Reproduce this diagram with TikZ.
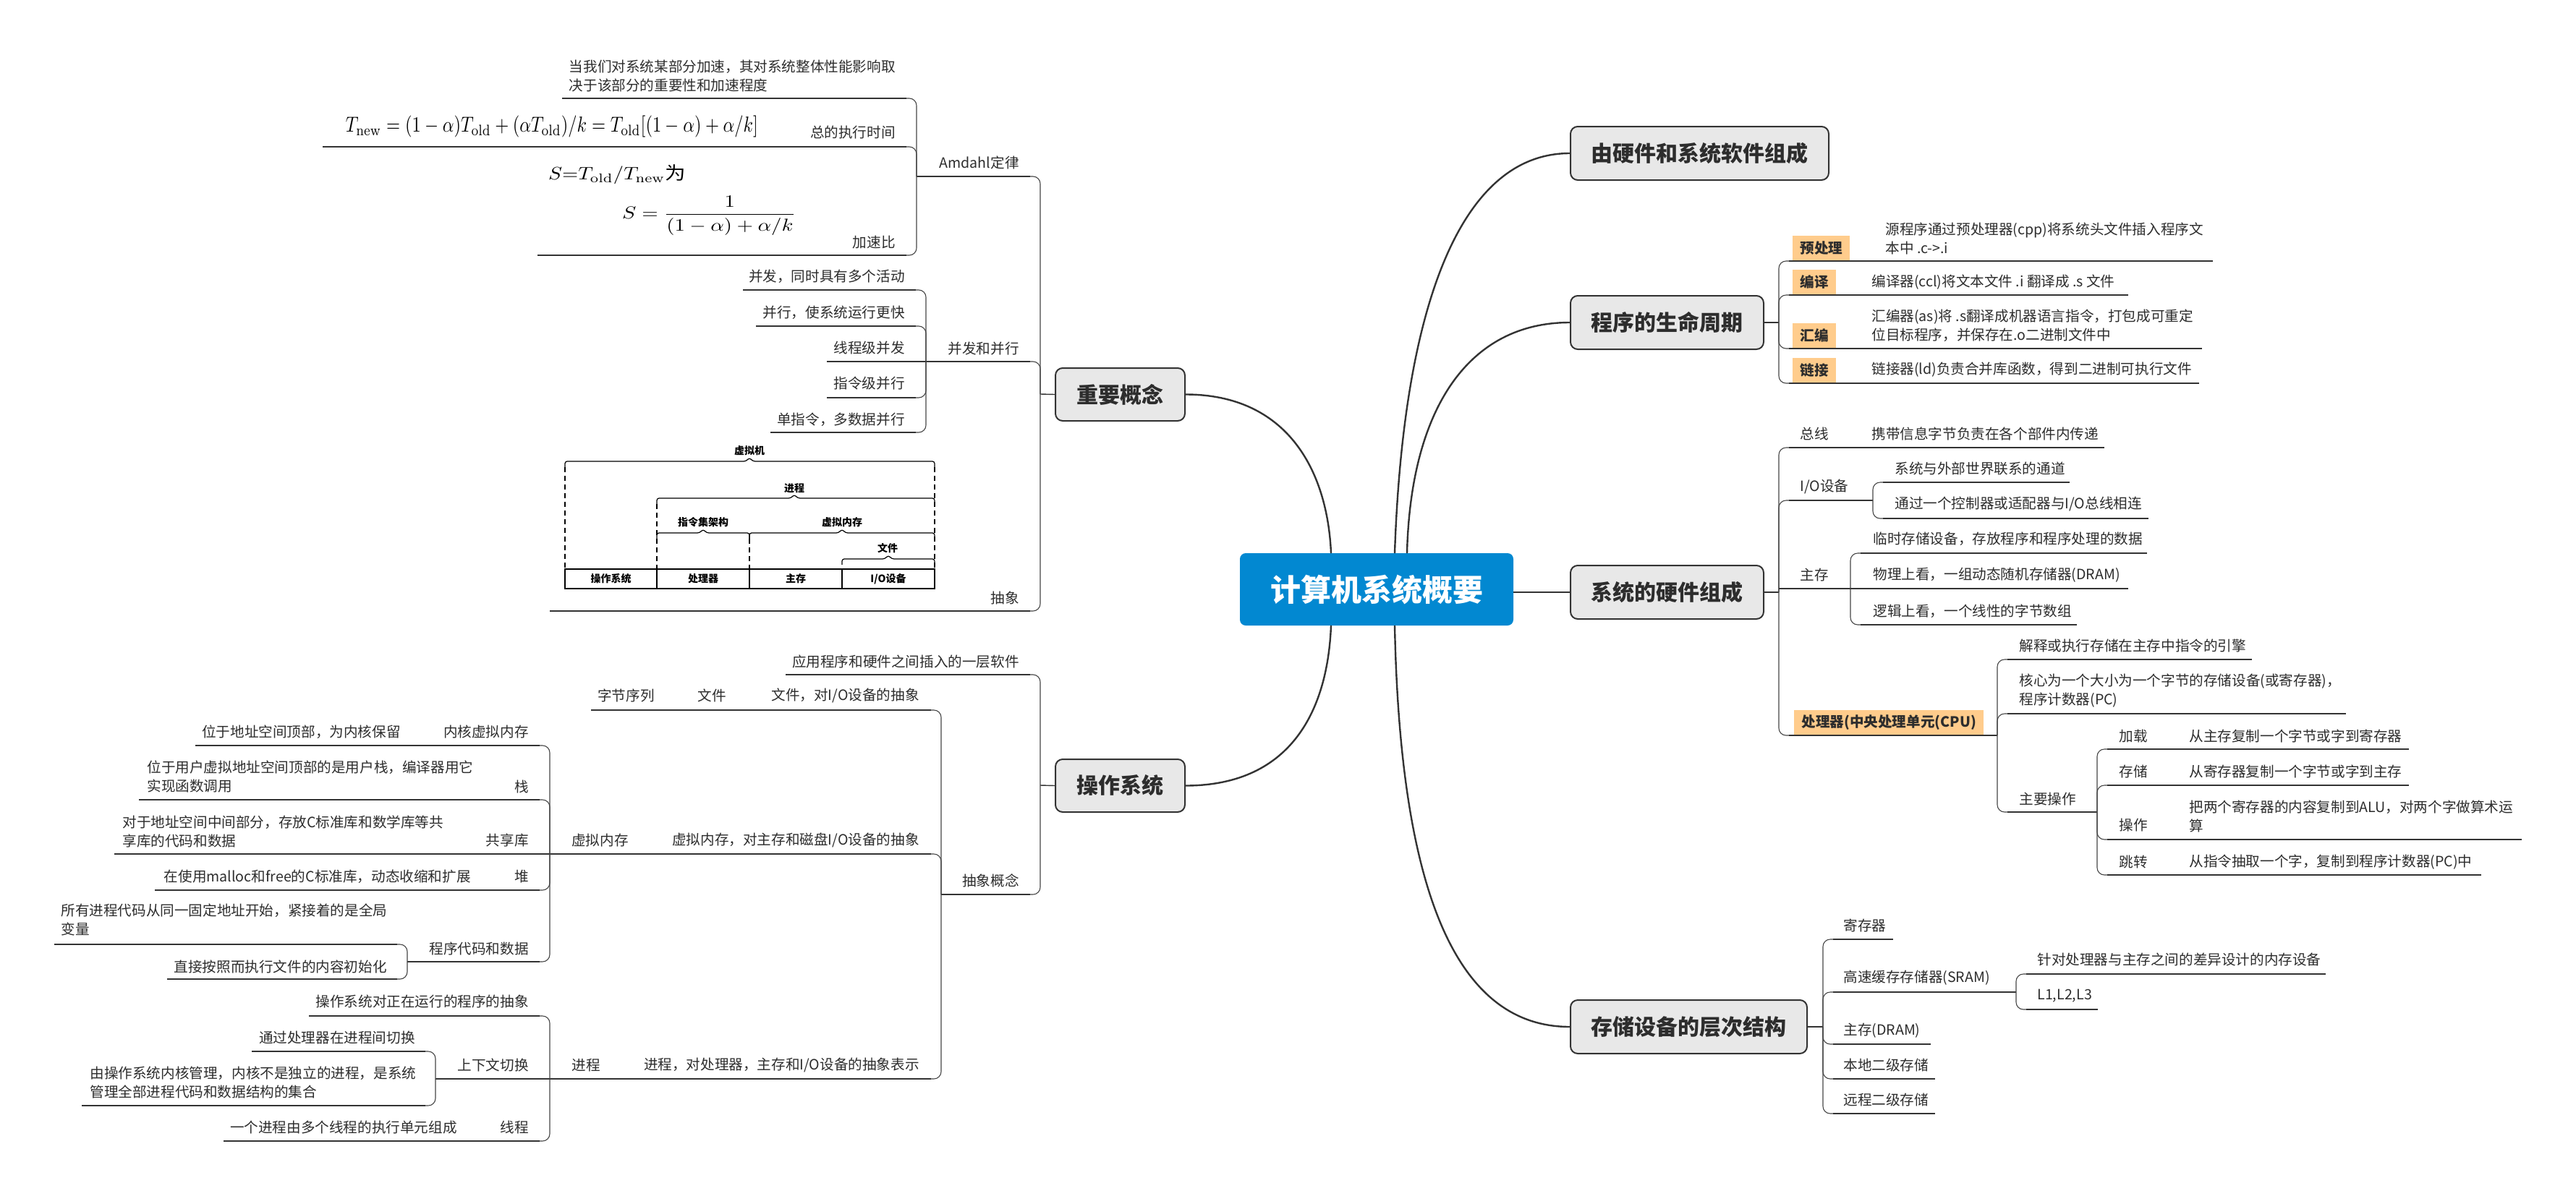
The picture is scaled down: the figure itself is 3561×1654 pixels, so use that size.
\documentclass[tikz,border=0pt]{standalone}
\usepackage[no-math]{fontspec}
\usepackage{graphicx}
\setmainfont{Noto Sans CJK SC}
\definecolor{linec}{RGB}{51,51,51}
\definecolor{brc}{RGB}{70,70,70}
\definecolor{textc}{RGB}{45,45,45}
\definecolor{boxfill}{RGB}{232,232,232}
\definecolor{tagc}{RGB}{255,204,140}
\definecolor{rootc}{RGB}{2,136,209}
\newcommand\brR[4]{\draw[br] (#1,#2) -- (#1,#3) -- ++(14,0); \draw[ul] (#1+14,#3) -- (#4,#3);}
\newcommand\brL[4]{\draw[br] (#1,#2) -- (#1,#3) -- ++(-14,0); \draw[ul] (#1-14,#3) -- (#4,#3);}
\newcommand\brS[3]{\draw[ul] (#1,#2) -- (#3,#2);}
\newcommand\vmbrace[4]{\draw[vml, rounded corners=1.5pt] (#1,#4+8) -- (#1,#4) -- (#3-5,#4) -- (#3,#4-5) -- (#3+5,#4) -- (#2,#4) -- (#2,#4+8);}
\begin{document}
\begin{tikzpicture}[x=0.5pt,y=-0.5pt,
  tx/.style={font=\fontsize{9.8}{13}\selectfont, text=textc, inner sep=0pt},
  L/.style={tx, anchor=west, align=left},
  R/.style={tx, anchor=east, align=right},
  ul/.style={draw=linec, line width=0.85pt},
  br/.style={draw=brc, line width=0.55pt, rounded corners=5pt},
  cn/.style={draw=linec, line width=0.7pt},
  curve/.style={draw=linec, line width=1.2pt},
  l1/.style={draw=linec, line width=1pt, fill=boxfill, rounded corners=5pt, font=\fontsize{15}{18}\selectfont\bfseries, text=textc, inner sep=0pt, minimum height=37pt},
  rootbox/.style={fill=rootc, rounded corners=4pt, font=\fontsize{21}{24}\selectfont\bfseries, text=white, inner sep=0pt},
  tag/.style={fill=tagc, font=\fontsize{9.8}{12}\selectfont\bfseries, text=textc, inner xsep=5pt, inner ysep=0pt, minimum height=17.5pt, anchor=south west},
  vm/.style={font=\fontsize{7}{8}\selectfont\bfseries, text=black, inner sep=0pt},
  vml/.style={draw=black, line width=0.6pt},
  vmd/.style={draw=black, line width=0.6pt, dash pattern=on 3.5pt off 2.5pt}
]
\useasboundingbox (0,0) rectangle (3561,1654);
\fill[white] (0,0) rectangle (3561,1654);

% ---------- main nodes ----------
\node[rootbox, minimum width=189pt, minimum height=50pt] (root) at (1903,815) {计算机系统概要};
\node[l1, minimum width=178.5pt] (hw) at (2349.5,212) {由硬件和系统软件组成};
\node[l1, minimum width=133.5pt] (life) at (2304.5,446) {程序的生命周期};
\node[l1, minimum width=133.5pt] (hwc) at (2304.5,819) {系统的硬件组成};
\node[l1, minimum width=163.5pt] (mem) at (2334.5,1420) {存储设备的层次结构};
\node[l1, minimum width=89.5pt, minimum height=36.5pt] (imp) at (1548.5,545.5) {重要概念};
\node[l1, minimum width=89.5pt, minimum height=36.5pt] (os) at (1548.5,1086.5) {操作系统};

\coordinate (rt1) at (1928,765);
\coordinate (rt2) at (1945,765);
\coordinate (rb1) at (1928,865);
\coordinate (lt1) at (1840,765);
\coordinate (lb1) at (1840,865);
\draw[curve] (hw.west) .. controls +(-150,0) and +(12,-345) .. (rt1);
\draw[curve] (life.west) .. controls +(-140,0) and +(5,-200) .. (rt2);
\draw[curve] (mem.west) .. controls +(-170,0) and +(7,335) .. (rb1);
\draw[curve] (root.east |- hwc.west) -- (hwc.west);
\draw[curve] (imp.east) .. controls +(140,0) and +(-5,-115) .. (lt1);
\draw[curve] (os.east) .. controls +(140,0) and +(-5,125) .. (lb1);

% ---------- 程序的生命周期 ----------
\node[tag] (t1) at (2478,361) {预处理};
\node[tag] (t2) at (2478,408) {编译};
\node[tag] (t3) at (2478,482) {汇编};
\node[tag] (t4) at (2478,530) {链接};
\draw[cn] (life.east) -- (2459,446);
\brR{2459}{446}{361}{3059}
\brR{2459}{446}{408}{2942}
\brR{2459}{446}{482}{3044}
\brR{2459}{446}{530}{3040}
\node[L] (d1) at (2606,330) {源程序通过预处理器(cpp)将系统头文件插入程序文\\本中 .c->.i};
\node[L] (d2) at (2587,390) {编译器(ccl)将文本文件 .i 翻译成 .s 文件};
\node[L] (d3) at (2587,450.5) {汇编器(as)将 .s翻译成机器语言指令，打包成可重定\\位目标程序，并保存在.o二进制文件中};
\node[L] (d4) at (2587,511) {链接器(ld)负责合并库函数，得到二进制可执行文件};

% ---------- 系统的硬件组成 ----------
\node[tag] (cpu) at (2480,1017) {处理器(中央处理单元(CPU)};
\draw[cn] (hwc.east) -- (2459,819);
\brR{2459}{819}{619}{2909}
\brR{2459}{819}{692}{2589}
\brS{2459}{814}{2558}
\brR{2459}{819}{1017}{2761}
\node[L] (bus) at (2488,600) {总线};
\node[L] (busd) at (2587,600) {携带信息字节负责在各个部件内传递};
\node[L] (io) at (2488,673) {I/O设备};
\brR{2589}{692}{667}{2861}
\brR{2589}{692}{717}{2970}
\node[L] (io1) at (2619,648) {系统与外部世界联系的通道};
\node[L] (io2) at (2619,697) {通过一个控制器或适配器与I/O总线相连};
\node[L] (mm) at (2488,795) {主存};
\brR{2558}{814}{765}{2968}
\brS{2558}{814}{2942}
\brR{2558}{814}{864}{2871}
\node[L] (mm1) at (2589,745) {临时存储设备，存放程序和程序处理的数据};
\node[L] (mm2) at (2589,795) {物理上看，一组动态随机存储器(DRAM)};
\node[L] (mm3) at (2589,845) {逻辑上看，一个线性的字节数组};
\brR{2761}{1017}{912}{3113}
\brR{2761}{1017}{987}{3243}
\brR{2761}{1017}{1123}{2899}
\node[L] (c1) at (2791,893) {解释或执行存储在主存中指令的引擎};
\node[L] (c2) at (2791,955.5) {核心为一个大小为一个字节的存储设备(或寄存器)，\\程序计数器(PC)};
\node[L] (c3) at (2791,1105) {主要操作};
\brR{2899}{1123}{1036}{3330}
\brR{2899}{1123}{1086}{3330}
\brR{2899}{1123}{1161}{3486}
\brR{2899}{1123}{1210}{3430}
\node[L] (o1) at (2929,1018) {加载};
\node[L] (o1d) at (3026,1018) {从主存复制一个字节或字到寄存器};
\node[L] (o2) at (2929,1067) {存储};
\node[L] (o2d) at (3026,1067) {从寄存器复制一个字节或字到主存};
\node[L] (o3) at (2929,1141) {操作};
\node[L] (o3d) at (3026,1129) {把两个寄存器的内容复制到ALU，对两个字做算术运\\算};
\node[L] (o4) at (2929,1192) {跳转};
\node[L] (o4d) at (3026,1192) {从指令抽取一个字，复制到程序计数器(PC)中};

% ---------- 存储设备的层次结构 ----------
\draw[cn] (mem.east) -- (2520,1420);
\brR{2520}{1420}{1299}{2617}
\brR{2520}{1420}{1372}{2787}
\brR{2520}{1420}{1444}{2669}
\brR{2520}{1420}{1492}{2675}
\brR{2520}{1420}{1540}{2675}
\node[L] (s1) at (2548,1280) {寄存器};
\node[L] (s2) at (2548,1352) {高速缓存存储器(SRAM)};
\brR{2787}{1372}{1347}{3215}
\brR{2787}{1372}{1396}{2900}
\node[L] (s21) at (2816,1327) {针对处理器与主存之间的差异设计的内存设备};
\node[L] (s22) at (2816,1377) {L1,L2,L3};
\node[L] (s3) at (2548,1425) {主存(DRAM)};
\node[L] (s4) at (2548,1473) {本地二级存储};
\node[L] (s5) at (2548,1521) {远程二级存储};

% ---------- 重要概念 ----------
\draw[cn] (imp.west) -- (1438,545);
\brL{1438}{545}{244}{1267}
\brL{1438}{545}{500}{1280}
\brL{1438}{545}{845}{760}
\node[R] (amd) at (1409,225) {Amdahl定律};
\brL{1267}{244}{136}{777}
\brL{1267}{244}{203}{446}
\brL{1267}{244}{353}{743}
\node[R, align=left] (a1) at (1238,105) {当我们对系统某部分加速，其对系统整体性能影响取\\决于该部分的重要性和加速程度};
\node[R] (a2) at (1238,183) {总的执行时间};
\node[R] (a3) at (1238,335) {加速比};
\node[inner sep=0pt] (f1) at (763,175) {\resizebox*{285pt}{15pt}{$T_{\mathrm{new}}=(1-\alpha)T_{\mathrm{old}}+(\alpha T_{\mathrm{old}})/k=T_{\mathrm{old}}[(1-\alpha)+\alpha/k]$}};
\node[inner sep=0pt] (f2) at (853,241) {\resizebox*{95pt}{13.5pt}{$S{=}T_{\mathrm{old}}/T_{\mathrm{new}}$为}};
\node[inner sep=0pt] (f3) at (980,298) {\resizebox*{120pt}{27pt}{$\displaystyle S=\frac{1}{(1-\alpha)+\alpha/k}$}};
\node[R] (pp) at (1409,482) {并发和并行};
\brL{1280}{500}{401}{1027}
\brL{1280}{500}{451}{1045}
\brS{1280}{500}{1143}
\brL{1280}{500}{550}{1143}
\brL{1280}{500}{598}{1065}
\node[R] (p1) at (1251,382) {并发，同时具有多个活动};
\node[R] (p2) at (1251,432) {并行，使系统运行更快};
\node[R] (p3) at (1251,481) {线程级并发};
\node[R] (p4) at (1251,530) {指令级并行};
\node[R] (p5) at (1251,580) {单指令，多数据并行};
\node[R] (abs) at (1409,827) {抽象};

% virtual machine figure
\node[vm] (vm1) at (1036,623) {虚拟机};
\node[vm] (vm2) at (1098,675) {进程};
\node[vm] (vm3) at (972,722) {指令集架构};
\node[vm] (vm4) at (1164,722) {虚拟内存};
\node[vm] (vm5) at (1227,758) {文件};
\vmbrace{781}{1292}{1036}{638}
\vmbrace{908}{1292}{1098}{689}
\vmbrace{908}{1036}{972}{737}
\vmbrace{1036}{1292}{1164}{737}
\vmbrace{1164}{1292}{1228}{773}
\draw[vmd] (781,646) -- (781,787);
\draw[vmd] (1292,646) -- (1292,787);
\draw[vmd] (908,697) -- (908,787);
\draw[vmd] (1036,745) -- (1036,787);
\draw[vml, line width=0.8pt] (781,787) rectangle (1292,814);
\draw[vml] (908,787) -- (908,814);
\draw[vml] (1036,787) -- (1036,814);
\draw[vml] (1164,787) -- (1164,814);
\node[vm] (vb1) at (844.5,800.5) {操作系统};
\node[vm] (vb2) at (972,800.5) {处理器};
\node[vm] (vb3) at (1100,800.5) {主存};
\node[vm] (vb4) at (1228,800.5) {I/O设备};

% ---------- 操作系统 ----------
\draw[cn] (os.west) -- (1438,1086);
\brL{1438}{1086}{933}{1086}
\brL{1438}{1086}{1237}{1301}
\node[R] (os1) at (1409,915) {应用程序和硬件之间插入的一层软件};
\node[R] (os2) at (1409,1218) {抽象概念};
\brL{1301}{1237}{982}{817}
\brL{1301}{1237}{1181}{760}
\brL{1301}{1237}{1492}{760}
\node[R] (f1a) at (1271,962) {文件，对I/O设备的抽象};
\node[R] (f1b) at (1004,962) {文件};
\node[R] (f1c) at (905,962) {字节序列};
\node[R] (vma) at (1271,1162) {虚拟内存，对主存和磁盘I/O设备的抽象};
\node[R] (vmb) at (869,1162) {虚拟内存};
\brL{760}{1181}{1031}{270}
\brL{760}{1181}{1106}{192}
\brS{760}{1181}{158}
\brL{760}{1181}{1231}{214}
\brL{760}{1181}{1330}{563}
\node[R] (k1) at (731,1012) {内核虚拟内存};
\node[R] (k1d) at (554,1012) {位于地址空间顶部，为内核保留};
\node[R] (k2) at (731,1088) {栈};
\node[L] (k2d) at (203,1074.5) {位于用户虚拟地址空间顶部的是用户栈，编译器用它\\实现函数调用};
\node[R] (k3) at (731,1162) {共享库};
\node[L] (k3d) at (169,1149.5) {对于地址空间中间部分，存放C标准库和数学库等共\\享库的代码和数据};
\node[R] (k4) at (731,1212) {堆};
\node[R] (k4d) at (651,1212) {在使用malloc和free的C标准库，动态收缩和扩展};
\node[R] (k5) at (731,1312) {程序代码和数据};
\brL{563}{1330}{1306}{75}
\brL{563}{1330}{1354}{231}
\node[L] (k51) at (84,1272) {所有进程代码从同一固定地址开始，紧接着的是全局\\变量};
\node[R] (k52) at (535,1337) {直接按照而执行文件的内容初始化};
\node[R] (pra) at (1271,1473) {进程，对处理器，主存和I/O设备的抽象表示};
\node[R] (prb) at (830,1473) {进程};
\brL{760}{1492}{1405}{427}
\brS{760}{1492}{602}
\brL{760}{1492}{1578}{309}
\node[R] (q1) at (731,1385) {操作系统对正在运行的程序的抽象};
\node[R] (q2) at (731,1473) {上下文切换};
\brL{602}{1492}{1454}{348}
\brL{602}{1492}{1529}{113}
\node[R] (q21) at (574,1435) {通过处理器在进程间切换};
\node[L] (q22) at (124,1497.5) {由操作系统内核管理，内核不是独立的进程，是系统\\管理全部进程代码和数据结构的集合};
\node[R] (q3) at (731,1559) {线程};
\node[R] (q3d) at (632,1559) {一个进程由多个线程的执行单元组成};
\end{tikzpicture}
\end{document}
